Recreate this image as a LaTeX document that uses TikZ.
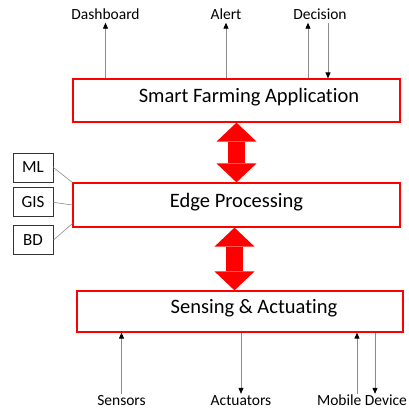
\documentclass[tikz,border=0pt]{standalone}
\usepackage{fontspec}
\setmainfont{Carlito}[Ligatures=NoCommon]
\usetikzlibrary{arrows.meta,positioning}

\begin{document}
\begin{tikzpicture}
  [x=1pt,y=-1pt,
   layer/.style={draw=red, line width=1.2pt, minimum width=327pt, minimum height=43pt, text height=13pt, text depth=9pt, font=\fontsize{20.5}{24}\selectfont},
   tool/.style={draw=black!80, line width=0.8pt, minimum width=40pt, minimum height=29pt, inner sep=0pt, font=\fontsize{17}{20}\selectfont},
   io/.style={inner sep=1pt, text height=10pt, text depth=2pt, font=\fontsize{15.5}{18}\selectfont},
   flow/.style={draw=black!45, line width=0.8pt, >={Triangle[width=5pt,length=6pt,color=black]}, ->},
   link/.style={draw=black!45, line width=0.6pt},
   bus/.style={draw=red, line width=17pt, >={Triangle[width=40pt,length=19pt,line width=0pt]}, <->}]
  \useasboundingbox (0,0) rectangle (408,409);

  \node [layer] (app) at (236.5,100.5) {\hspace*{25pt}Smart Farming Application};
  \node [layer, minimum height=44pt] (edge) at (236.5,205) {Edge Processing};
  \node [layer, minimum width=326pt, minimum height=41pt] (sense) at (240,311.5) {\hspace*{28pt}Sensing \& Actuating};

  \node [tool] (ml) at (33,167.5) {ML};
  \node [tool] (gis) [below=5pt of ml] {GIS};
  \node [tool] (bd) [below=8pt of gis] {BD};

  \node [io] (dash) at (105.5,15.5) {Dashboard};
  \node [io] (alert) at (226,15.5) {Alert};
  \node [io] (dec) at (320,15.5) {Decision};
  \node [io] (sens) at (121.5,401) {Sensors};
  \node [io] (act) at (241,401) {Actuators};
  \node [io] (mob) at (362,401) {Mobile Device};

  \coordinate (decup) at ([xshift=-12pt]dec.south);
  \coordinate (decdown) at ([xshift=8pt]dec.south);
  \coordinate (mobup) at ([xshift=-5pt]mob.north);
  \coordinate (mobdown) at ([xshift=13pt]mob.north);
  \coordinate (busb) at ([xshift=-2pt]edge.south);

  \draw [bus] (app.south) -- (edge.north);
  \draw [bus] (busb) -- (busb |- sense.north);

  \draw [link] (ml.east) -- (edge.north west);
  \draw [link] (gis.east) -- (edge.west);
  \draw [link] (bd.east) -- ([yshift=4pt]edge.south west);

  \draw [flow] (app.north -| dash.south) -- (dash.south);
  \draw [flow] (app.north -| alert.south) -- (alert.south);
  \draw [flow] (app.north -| decup) -- (decup);
  \draw [flow] (decdown) -- (app.north -| decdown);

  \draw [flow] (sens.north) -- (sense.south -| sens.north);
  \draw [flow] (sense.south -| act.north) -- (act.north);
  \draw [flow] (mobup) -- (sense.south -| mobup);
  \draw [flow] (sense.south -| mobdown) -- (mobdown);
\end{tikzpicture}
\end{document}
